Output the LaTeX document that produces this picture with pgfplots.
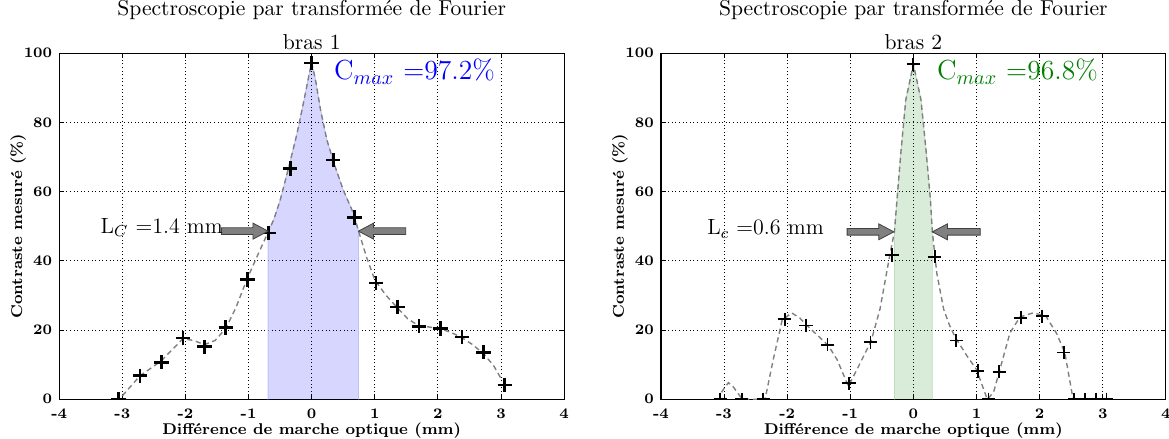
\documentclass[border=0pt]{standalone}
\usepackage{pgfplots}
\pgfplotsset{compat=1.18}
\newcommand{\fatarrow}[4]{%
 \draw[fill=black!50, draw=black!75, line width=0.4pt]
 ([yshift=1.65pt]axis cs:#1,#4) -- ([yshift=1.65pt]axis cs:#2,#4) -- ([yshift=4pt]axis cs:#2,#4) --
 (axis cs:#3,#4) -- ([yshift=-4pt]axis cs:#2,#4) -- ([yshift=-1.65pt]axis cs:#2,#4) --
 ([yshift=-1.65pt]axis cs:#1,#4) -- cycle;}
\begin{document}
\begin{tikzpicture}
\pgfplotsset{
 myaxis/.style={
  scale only axis, width=252.5pt, height=173pt,
  xmin=-4,xmax=4,ymin=0,ymax=100,
  xtick={-4,-3,-2,-1,0,1,2,3,4}, xticklabels={-4,-3,-2,-1,0,1,2,3,4},
  ytick={0,20,40,60,80,100}, yticklabels={0,20,40,60,80,100},
  tick align=inside, xtick pos=both, ytick pos=both, major tick length=2.5pt,
  tick style={black, line width=0.5pt},
  ticklabel style={font=\bfseries\fontsize{7.3}{8}\selectfont},
  xticklabel shift=1.3pt,
  grid=major, major grid style={black, line width=0.5pt, dash pattern=on 0.5pt off 1.3pt},
  axis line style={line width=0.6pt},
  xlabel={Différence de marche optique (mm)},
  ylabel={Contraste mesuré (\%)},
  label style={font=\bfseries\fontsize{7.8}{9}\selectfont},
  xlabel style={at={([yshift=-15.5pt]axis description cs:0.5,0)},anchor=center},
  ylabel style={at={([xshift=-20.5pt]axis description cs:0,0.5)},anchor=center},
  title style={at={(axis description cs:0.5,1)},anchor=south,yshift=-4.4pt,align=center,inner sep=0pt,font=\fontsize{10.8}{17}\selectfont},
  clip marker paths=true,
 },
 curve/.style={black!50, line width=0.7pt, dash pattern=on 2.6pt off 1.8pt, mark=none},
}
\path[use as bounding box] (-29.6pt,-19.85pt) rectangle (554.9pt,199.65pt);
% ---------------- bras 1
\begin{axis}[myaxis, at={(0pt,0pt)}, anchor=south west,
  title={Spectroscopie par transformée de Fourier\\bras 1}]
\addplot[fill=blue, fill opacity=0.16, draw=blue!25, line width=0.4pt, mark=none] coordinates {
(-0.69,0) (-0.69,48.3) (-0.60,52) (-0.50,57.5) (-0.36,67.3) (-0.23,77) (-0.12,86.6) (-0.04,94) (0,97.2)
(0.06,92.4) (0.14,83.7) (0.24,75) (0.37,67.3) (0.50,60.5) (0.66,53.8) (0.74,48.8) (0.74,0)};
\addplot[curve] coordinates {
(-3.0,1.0) (-2.72,6.8) (-2.39,11.0) (-2.04,17.5) (-1.87,17.0) (-1.70,15.8) (-1.53,17.0) (-1.36,20.5)
(-1.2,26.5) (-1.03,34.5) (-0.86,41.5) (-0.69,48.3) (-0.60,52) (-0.50,57.5) (-0.36,67.3) (-0.23,77)
(-0.12,86.6) (-0.04,94) (0,97.2) (0.06,92.4) (0.14,83.7) (0.24,75) (0.37,67.3) (0.50,60.5) (0.66,53.8)
(0.74,48.8) (0.87,41) (1.0,34.5) (1.17,30.2) (1.35,26.6) (1.52,23.3) (1.69,21.3) (1.86,20.9) (2.03,20.4)
(2.2,19.4) (2.38,17.8) (2.55,15.8) (2.72,13.2) (2.88,9.8) (3.0,6)};
\addplot[only marks, mark=+, mark size=3.6pt, mark options={line width=1.35pt, black}] coordinates {
(-3.06,0) (-2.72,6.8) (-2.38,10.7) (-2.04,17.7) (-1.70,15.2) (-1.36,20.8) (-1.02,34.6) (-0.68,48.1)
(-0.34,66.7) (0,97.2) (0.34,69.2) (0.68,52.5) (1.02,33.6) (1.36,26.7) (1.70,21.1) (2.04,20.5)
(2.38,18.0) (2.72,13.6) (3.06,4.1)};
\fatarrow{-1.43}{-0.93}{-0.69}{48.6}
\fatarrow{1.49}{0.98}{0.74}{48.6}
\node[anchor=base west, font=\fontsize{11}{13}\selectfont, inner sep=0pt] at (axis cs:-3.35,47.9) {L$_C$ =1.4 mm};
\node[anchor=base west, text=blue, font=\fontsize{13.8}{16}\selectfont, inner sep=0pt] at (axis cs:0.35,92.3) {C$_{max}$ =97.2\%};
\end{axis}
% ---------------- bras 2
\begin{axis}[myaxis, at={(300.85pt,0pt)}, anchor=south west,
  title={Spectroscopie par transformée de Fourier\\bras 2}]
\addplot[fill={rgb,255:red,0;green,128;blue,0}, fill opacity=0.15, draw={rgb,255:red,190;green,220;blue,190}, line width=0.4pt, mark=none] coordinates {
(-0.30,0) (-0.30,48.5) (-0.26,57.6) (-0.195,72) (-0.12,86.6) (0,96.8) (0.12,86.6) (0.2,72) (0.27,57.6) (0.30,48.5) (0.30,0)};
\addplot[curve] coordinates {
(-3.04,2) (-2.99,3.4) (-2.93,4.8) (-2.85,3.5) (-2.75,1) (-2.7,0) (-2.35,0) (-2.22,11.5) (-2.08,22.8)
(-1.93,25) (-1.8,23.5) (-1.69,21.4) (-1.52,18.5) (-1.35,15.6) (-1.21,11.5) (-1.03,3.8) (-0.9,8.4)
(-0.67,16.8) (-0.53,26) (-0.37,42) (-0.30,48.5) (-0.26,57.6) (-0.195,72) (-0.12,86.6) (0,96.8)
(0.12,86.6) (0.2,72) (0.27,57.6) (0.30,48.5) (0.37,36.5) (0.48,26) (0.57,21.5) (0.66,18) (0.85,12.5) (1.0,8.6)
(1.17,0) (1.27,2) (1.37,8.6) (1.53,19.2) (1.69,23.8) (1.90,25) (2.1,24) (2.27,19) (2.40,13.4)
(2.53,0) (3.06,0)};
\addplot[only marks, mark=+, mark size=3.3pt, mark options={line width=0.9pt, black}] coordinates {
(-3.06,0) (-2.72,0) (-2.38,0) (-2.04,23.1) (-1.70,21.3) (-1.36,15.8) (-1.02,4.6) (-0.68,16.5)
(-0.34,41.7) (0,96.8) (0.34,41.2) (0.68,17.0) (1.02,8.2) (1.19,0) (1.36,8.0) (1.70,23.6) (2.04,24.0)
(2.38,13.5) (2.55,0) (2.72,0) (2.89,0) (3.06,0)};
\fatarrow{-1.05}{-0.55}{-0.31}{48.4}
\fatarrow{1.06}{0.54}{0.30}{48.4}
\node[anchor=base west, font=\fontsize{11}{13}\selectfont, inner sep=0pt] at (axis cs:-3.27,47.5) {L$_c$ =0.6 mm};
\node[anchor=base west, text={rgb,255:red,0;green,128;blue,0}, font=\fontsize{13.8}{16}\selectfont, inner sep=0pt] at (axis cs:0.37,92.3) {C$_{max}$ =96.8\%};
\end{axis}
\end{tikzpicture}
\end{document}
